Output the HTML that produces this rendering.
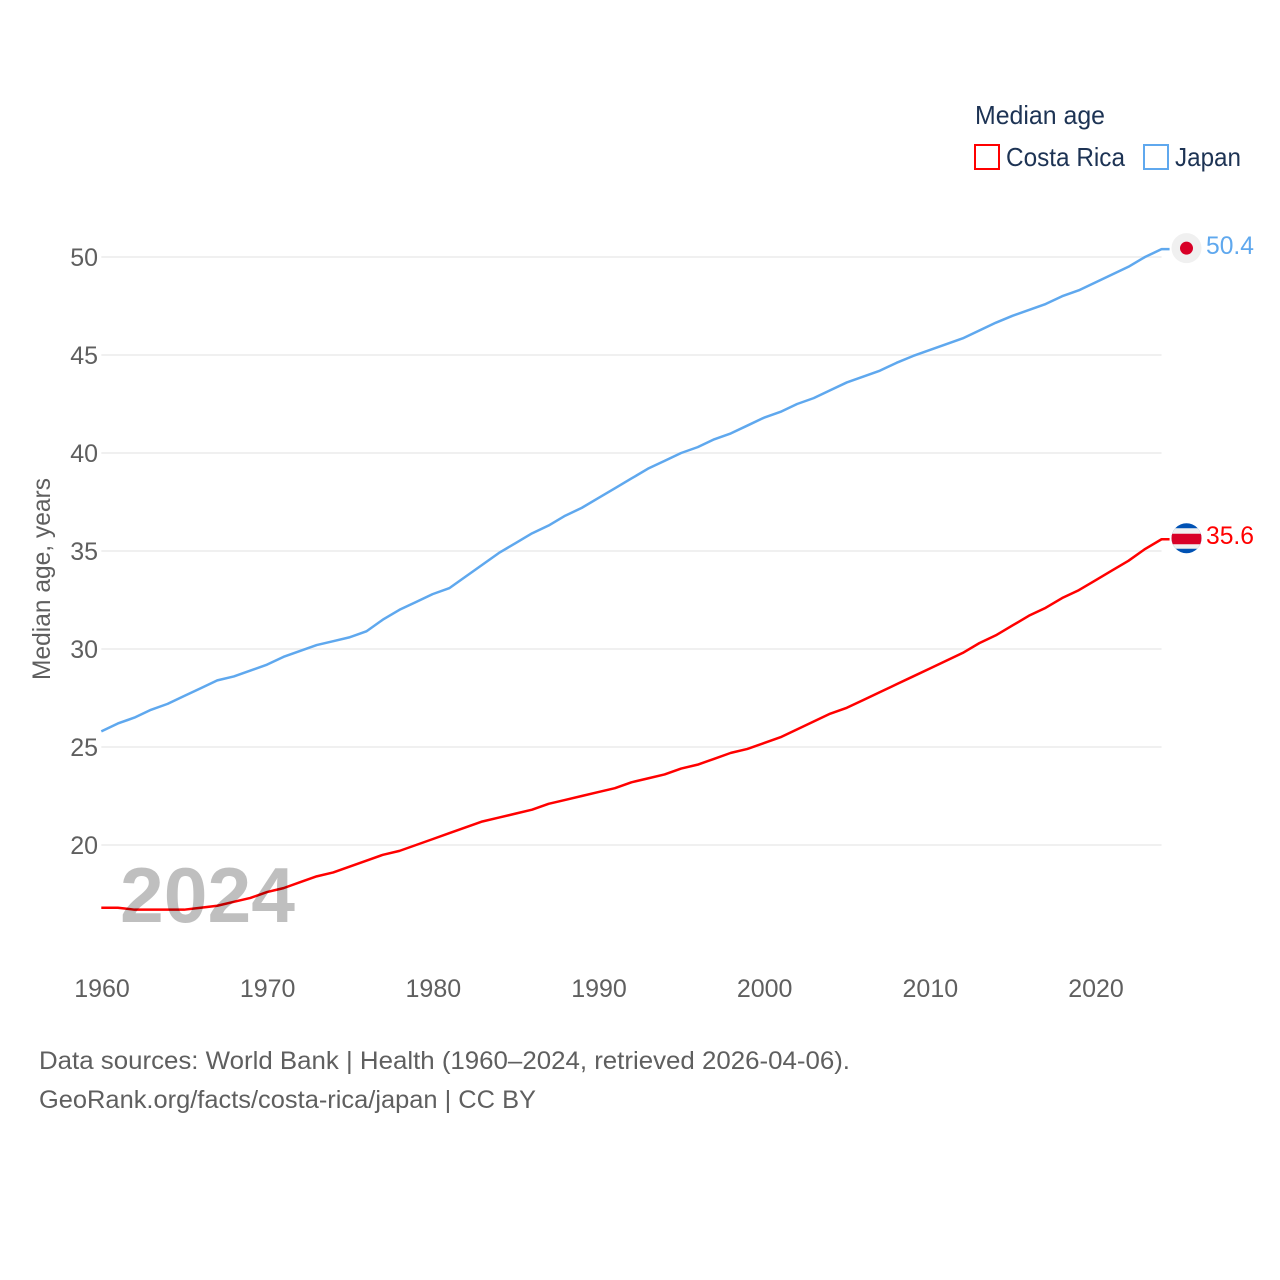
<!DOCTYPE html>
<html lang="en">
<head>
<meta charset="utf-8">
<title>Median age: Costa Rica and Japan</title>
<style>
  html, body { margin: 0; padding: 0; background: #fff; }
  svg { display: block; font-family: "Liberation Sans", sans-serif; }
  .tick { font-size: 25px; fill: #5f5f5f; }
  .foot { font-size: 25px; fill: #5f5f5f; }
  .legend { font-size: 26px; fill: #1d3354; }
</style>
</head>
<body>
<svg id="chart" width="1280" height="1280" viewBox="0 0 1280 1280" xmlns="http://www.w3.org/2000/svg">
  <defs>
    <clipPath id="clip-jp"><circle cx="1186.5" cy="248" r="15"></circle></clipPath>
    <clipPath id="clip-cr"><circle cx="1186.5" cy="538.5" r="15"></circle></clipPath>
  </defs>
  <rect width="1280" height="1280" fill="#ffffff"></rect>

  <g>
    <text class="legend" x="975" y="124" textLength="130" lengthAdjust="spacingAndGlyphs">Median age</text>
    <rect x="975" y="145" width="24" height="24" fill="#fff" stroke="#ff0000" stroke-width="2"></rect>
    <text class="legend" x="1006" y="166" textLength="119" lengthAdjust="spacingAndGlyphs">Costa Rica</text>
    <rect x="1144" y="145" width="24" height="24" fill="#fff" stroke="#5fa8ee" stroke-width="2"></rect>
    <text class="legend" x="1175" y="166" textLength="66" lengthAdjust="spacingAndGlyphs">Japan</text>
  </g>

  <g id="grid"></g>
  <g id="yticks"></g>
  <g id="xticks"></g>
  <text class="tick" transform="translate(50 579) rotate(-90)" text-anchor="middle" textLength="202" lengthAdjust="spacingAndGlyphs">Median age, years</text>

  <g id="series"></g>
  <text x="120" y="922" font-size="78" font-weight="700" fill="#000000" fill-opacity="0.25" textLength="175" lengthAdjust="spacingAndGlyphs">2024</text>

  <g id="flag-jp">
    <g clip-path="url(#clip-jp)">
      <rect x="1170" y="232" width="34" height="32" fill="#f0f0f0"></rect>
    </g>
    <circle cx="1186.5" cy="248" r="6.5" fill="#d80027"></circle>
  </g>
  <g id="flag-cr">
    <g clip-path="url(#clip-cr)">
      <rect x="1170" y="522" width="34" height="34" fill="#0052b4"></rect>
      <rect x="1170" y="528.5" width="34" height="20.5" fill="#f0f0f0"></rect>
      <rect x="1170" y="534" width="34" height="10.5" fill="#d80027"></rect>
    </g>
  </g>
  <g id="endlabels"></g>

  <g>
    <text class="foot" x="39" y="1069" textLength="811" lengthAdjust="spacingAndGlyphs">Data sources: World Bank | Health (1960–2024, retrieved 2026-04-06).</text>
    <text class="foot" x="39" y="1108" textLength="497" lengthAdjust="spacingAndGlyphs">GeoRank.org/facts/costa-rica/japan | CC BY</text>
  </g>
</svg>

<script>
const years = [1960,1961,1962,1963,1964,1965,1966,1967,1968,1969,1970,1971,1972,1973,1974,1975,1976,1977,1978,1979,1980,1981,1982,1983,1984,1985,1986,1987,1988,1989,1990,1991,1992,1993,1994,1995,1996,1997,1998,1999,2000,2001,2002,2003,2004,2005,2006,2007,2008,2009,2010,2011,2012,2013,2014,2015,2016,2017,2018,2019,2020,2021,2022,2023,2024];
const japanValues = [25.8,26.2,26.5,26.9,27.2,27.6,28.0,28.4,28.6,28.9,29.2,29.6,29.9,30.2,30.4,30.6,30.9,31.5,32.0,32.4,32.8,33.1,33.7,34.3,34.9,35.4,35.9,36.3,36.8,37.2,37.7,38.2,38.7,39.2,39.6,40.0,40.3,40.7,41.0,41.4,41.8,42.1,42.5,42.8,43.2,43.6,43.9,44.2,44.6,44.95,45.25,45.55,45.85,46.25,46.65,47.0,47.3,47.6,48.0,48.3,48.7,49.1,49.5,50.0,50.4];
const costaRicaValues = [16.8,16.8,16.7,16.7,16.7,16.7,16.8,16.9,17.1,17.3,17.6,17.8,18.1,18.4,18.6,18.9,19.2,19.5,19.7,20.0,20.3,20.6,20.9,21.2,21.4,21.6,21.8,22.1,22.3,22.5,22.7,22.9,23.2,23.4,23.6,23.9,24.1,24.4,24.7,24.9,25.2,25.5,25.9,26.3,26.7,27.0,27.4,27.8,28.2,28.6,29.0,29.4,29.8,30.3,30.7,31.2,31.7,32.1,32.6,33.0,33.5,34.0,34.5,35.1,35.6];
const xTickLabels = [1960,1970,1980,1990,2000,2010,2020];
const yTickLabels = [20,25,30,35,40,45,50];

const NS = 'http://www.w3.org/2000/svg';
const xScale = function (year) { return 101.3 + (year - 1960) * (1095.3 - 101.3) / 60; };
const yScale = function (value) { return 845 - (value - 20) * (845 - 257) / 30; };

const grid = document.getElementById('grid');
const yticks = document.getElementById('yticks');
const xticks = document.getElementById('xticks');
const series = document.getElementById('series');
const endlabels = document.getElementById('endlabels');

yTickLabels.forEach(function (tick) {
  const y = yScale(tick);
  const line = document.createElementNS(NS, 'line');
  
  
  line.setAttribute('x1', xScale(1960));
  line.setAttribute('x2', xScale(2024));
  line.setAttribute('y1', y);
  line.setAttribute('y2', y);
  line.setAttribute('stroke', '#ececec');
  line.setAttribute('stroke-width', '1.5');
  grid.appendChild(line);

  const label = document.createElementNS(NS, 'text');
  
  
  label.setAttribute('class', 'tick');
  label.setAttribute('x', 98);
  label.setAttribute('y', y + 9);
  label.setAttribute('text-anchor', 'end');
  label.textContent = tick;
  yticks.appendChild(label);
});

xTickLabels.forEach(function (tick) {
  const label = document.createElementNS(NS, 'text');
  
  
  label.setAttribute('class', 'tick');
  label.setAttribute('x', xScale(tick) + 0.7);
  label.setAttribute('y', 997);
  label.setAttribute('text-anchor', 'middle');
  label.textContent = tick;
  xticks.appendChild(label);
});

function linePath(values) {
  return values.map(function (value, i) {
    return (i ? 'L' : 'M') + xScale(years[i]).toFixed(2) + ' ' + yScale(value).toFixed(2);
  }).join(' ');
}

function drawSeries(name, values, color) {
  const path = document.createElementNS(NS, 'path');
  
  
  const lastValue = values[values.length - 1];
  path.setAttribute('d', linePath(values) + ' H ' + (xScale(years[years.length - 1]) + 8));
  path.setAttribute('fill', 'none');
  path.setAttribute('stroke', color);
  path.setAttribute('stroke-width', '2.5');
  path.setAttribute('stroke-linejoin', 'round');
  series.appendChild(path);

  const label = document.createElementNS(NS, 'text');
  
  
  label.setAttribute('x', 1206);
  label.setAttribute('y', yScale(lastValue) + 5);
  label.setAttribute('font-size', '25');
  label.setAttribute('fill', color);
  label.setAttribute('textLength', '48');
  label.setAttribute('lengthAdjust', 'spacingAndGlyphs');
  label.textContent = lastValue.toFixed(1);
  endlabels.appendChild(label);
}

drawSeries('japan', japanValues, '#5fa8ee');
drawSeries('costa-rica', costaRicaValues, '#ff0000');

function placeFlag(id, value, baseY) {
  const dy = yScale(value) - 1 - baseY;
  document.getElementById(id).setAttribute('transform', 'translate(0 ' + dy.toFixed(2) + ')');
}
placeFlag('flag-jp', japanValues[japanValues.length - 1], 248);
placeFlag('flag-cr', costaRicaValues[costaRicaValues.length - 1], 538.5);
</script>
</body>
</html>
